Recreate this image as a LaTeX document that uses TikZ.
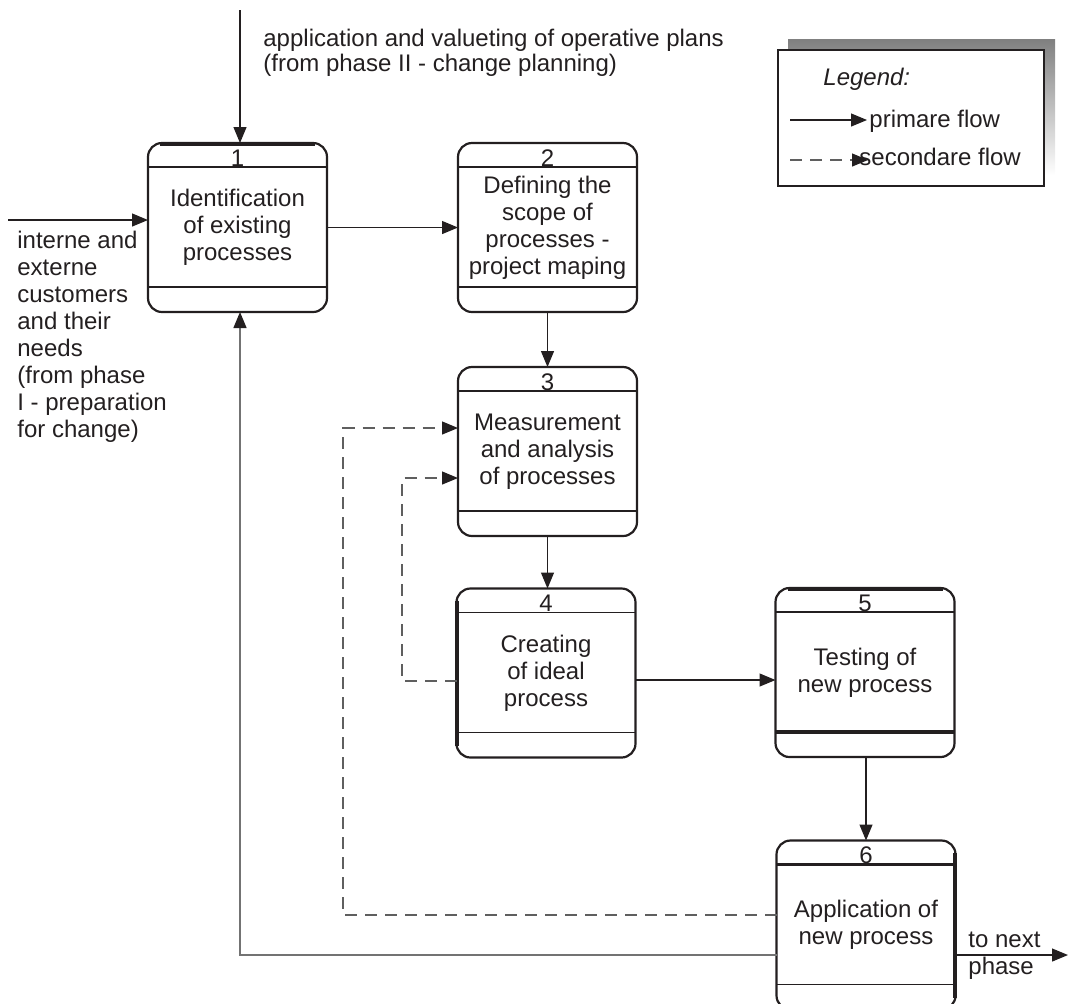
\documentclass[tikz,border=0pt]{standalone}
\usepackage{fontspec}
\setmainfont{Liberation Sans}
\usetikzlibrary{arrows.meta}
\definecolor{ink}{RGB}{35,31,32}
\definecolor{backline}{RGB}{115,115,115}
\definecolor{dashline}{RGB}{95,95,95}
\definecolor{shade}{RGB}{145,145,145}

% one process box: name, x, y, number, caption
\newcommand\procbox[5]{%
  \node[proc] (#1) at (#2,#3) {};
  \draw[divider] ([yshift=-12pt]#1.north west) -- ([yshift=-12pt]#1.north east);
  \draw[divider] ([yshift=12.5pt]#1.south west) -- ([yshift=12.5pt]#1.south east);
  \node[txt, anchor=base] (#1n) at ([yshift=-11.5pt]#1.north) {#4};
  \node[txt, align=center] (#1t) at (#1.center) {#5};
}

\begin{document}
\begin{tikzpicture}[x=0.5pt, y=-0.5pt,
  font=\fontsize{12pt}{13.5pt}\selectfont,
  txt/.style={inner sep=0pt, text=ink},
  proc/.style={draw=ink, line width=1.1pt, rounded corners=7pt, outer sep=0pt,
    minimum width=89.5pt, minimum height=84.5pt, inner sep=0pt},
  divider/.style={draw=ink, line width=0.8pt},
  heavy/.style={draw=ink, line width=1.9pt},
  tip/.style={-{Triangle[length=8pt,width=6.5pt,color=ink]}},
  flow/.style={draw=ink, line width=0.6pt, tip},
  back/.style={draw=backline, line width=0.7pt, tip},
  sec/.style={draw=dashline, line width=0.6pt, dash pattern=on 6pt off 4pt, tip}]

\useasboundingbox (0,0) rectangle (1070,1003);
\clip (0,0) rectangle (1070,1003);

% process boxes
\procbox{b1}{237.5}{227.5}{1}{Identification\\of existing\\processes}
\procbox{b2}{547.5}{227.5}{2}{Defining the\\scope of\\processes -\\project maping}
\procbox{b3}{547.5}{451.5}{3}{Measurement\\and analysis\\of processes}
\procbox{b4}{546}{673}{4}{Creating\\of ideal\\process}
\procbox{b5}{865}{672.5}{5}{Testing of\\new process}
\procbox{b6}{866}{925}{6}{Application of\\new process}

% heavier strokes on some box edges
\draw[heavy] ([xshift=6pt,yshift=-0.4pt]b1.north west) -- ([xshift=-6pt,yshift=-0.4pt]b1.north east);
\draw[heavy] ([xshift=0.4pt,yshift=-6pt]b4.north west) -- ([xshift=0.4pt,yshift=6pt]b4.south west);
\draw[heavy] ([xshift=6pt,yshift=-0.4pt]b5.north west) -- ([xshift=-6pt,yshift=-0.4pt]b5.north east);
\draw[heavy] ([yshift=12.5pt]b5.south west) -- ([yshift=12.5pt]b5.south east);
\draw[heavy] ([yshift=-12pt]b6.north west) -- ([yshift=-12pt]b6.north east);
\draw[heavy] ([xshift=-0.4pt,yshift=-6pt]b6.north east) -- ([xshift=-0.4pt,yshift=6pt]b6.south east);

% external inputs
\coordinate (topin) at (240,10);
\draw[flow] (topin) -- (topin |- b1.north);
\node[txt, anchor=north west, align=left,
  font=\fontsize{12pt}{12.5pt}\selectfont] (toptext) at (263,29)
  {application and valueting of operative plans\\(from phase II - change planning)};

\coordinate (leftin) at (8,220);
\draw[flow] (leftin) -- (leftin -| b1.west);
\node[txt, anchor=north west, align=left] (lefttext) at (17,231)
  {interne and\\externe\\customers\\and their\\needs\\(from phase\\I - preparation\\for change)};

% primary flow
\draw[flow] (b1) -- (b1 -| b2.west);
\draw[flow] (b2) -- (b3);
\draw[flow] (b3.south) -- (b3.south |- b4.north);
\coordinate (m45) at (700,680);
\draw[flow] (b4.east |- m45) -- (b5.west |- m45);
\coordinate (m56) at (866,800);
\draw[flow] (b5.south -| m56) -- (b6.north -| m56);

% output to next phase
\coordinate (out) at (1068,955);
\draw[flow] (b6.east |- out) -- (out);
\node[txt, anchor=north west, align=left] (outtext) at (968,932) {to next\\phase};

% feedback to the start
\coordinate (fb) at (240,955);
\draw[back] (b6.west |- fb) -- (fb) -- (fb |- b1.south);

% secondary flows back to measurement
\coordinate (d1) at (343,915);
\coordinate (d1top) at (343,428);
\draw[sec] (b6.west |- d1) -- (d1) -- (d1top) -- (d1top -| b3.west);
\coordinate (d2) at (402,681);
\coordinate (d2top) at (402,478);
\draw[sec] (b4.west |- d2) -- (d2) -- (d2top) -- (d2top -| b3.west);

% legend
\fill[shade] (788,39) rectangle (1055,175);
\node[draw=ink, fill=white, line width=0.7pt, minimum width=133pt,
  minimum height=68pt, inner sep=0pt] (legend) at (911,118) {};
\node[txt, anchor=base west, font=\fontsize{12pt}{13pt}\selectfont\itshape]
  (legtitle) at (823,85) {Legend:};
\coordinate (l1a) at (790,120);
\coordinate (l1b) at (867,120);
\draw[flow] (l1a) -- (l1b);
\node[txt, anchor=base west] (l1t) at (869,127) {primare flow};
\coordinate (l2a) at (790,160);
\coordinate (l2b) at (868,160);
\draw[sec] (l2a) -- (l2b);
\node[txt, anchor=base west] (l2t) at (859,165) {secondare flow};
\end{tikzpicture}
\end{document}
